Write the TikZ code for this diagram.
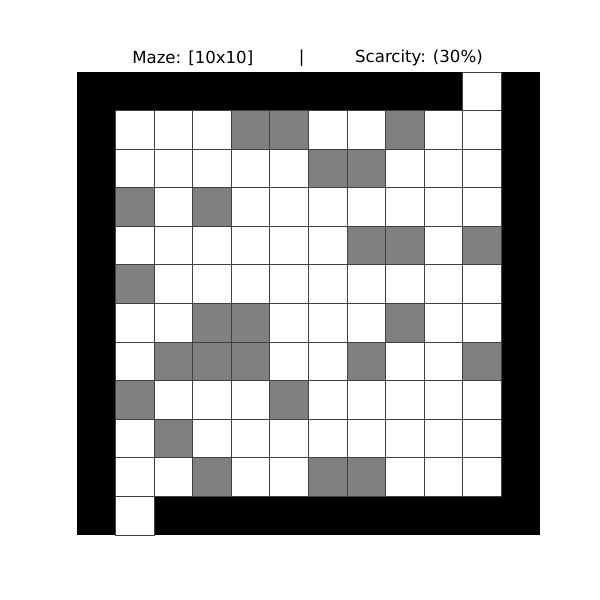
\documentclass[tikz,border=0pt]{standalone}
\usepackage{fontspec}
\setmainfont{DejaVu Sans}
\tikzset{
  cell/.style={draw=black!75, line width=0.6pt},
  free/.style={cell, fill=white},
  rock/.style={cell, fill=black!50},
  title/.style={font=\fontsize{11.8}{14}\selectfont, inner sep=0pt}
}
\begin{document}
\begin{tikzpicture}[x=0.96458cm,y=-0.96458cm]
    \useasboundingbox (-1.9957,-1.8661) rectangle (13.5512,13.6847);
    % Walls
    \fill[black] (0,0) rectangle (12,12);
    % Free cells
    \foreach \c in {1,...,10}
    \foreach \r in {1,...,10}
    \draw[free] (\c,\r) rectangle ++(1,1);
    % Entrance and exit
    \draw[free] (10,0) rectangle ++(1,1);
    \draw[free] (1,11) rectangle ++(1,1);
    % Obstacles
    \foreach \c/\r in {4/1, 5/1, 8/1, 6/2, 7/2, 1/3, 3/3, 7/4, 8/4, 10/4,
                       1/5, 3/6, 4/6, 8/6, 2/7, 3/7, 4/7, 7/7, 10/7,
                       1/8, 5/8, 2/9, 3/10, 6/10, 7/10}
    \draw[rock] (\c,\r) rectangle ++(1,1);
    % Title
    \node[title, anchor=west] (size) at (1.4255,-0.363) {Maze: [10x10]};
    \node[title] (bar) at (5.82,-0.363) {|};
    \node[title, anchor=east] (scarcity) at (10.523,-0.363) {Scarcity: (30\%)};
\end{tikzpicture}
\end{document}
